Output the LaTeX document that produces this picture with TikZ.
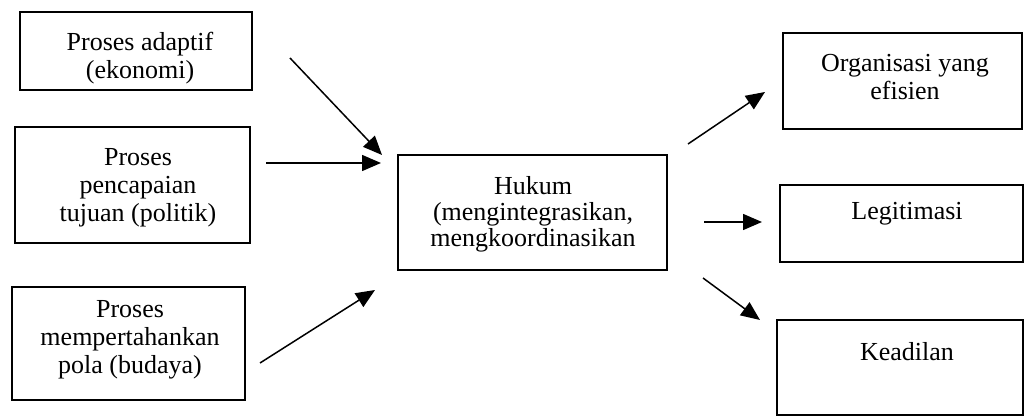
\documentclass[tikz,border=0pt]{standalone}
\usepackage{fontspec}
\setmainfont{Liberation Serif}
\usetikzlibrary{arrows.meta}
\begin{document}
\begin{tikzpicture}[x=1pt,y=-1pt,
  boxnode/.style={draw=black,line width=1.2pt,rectangle,inner sep=0pt},
  txt/.style={align=center,inner sep=0pt,font=\fontsize{26}{28}\selectfont},
  conn/.style={line width=1.5pt,-{Triangle[length=19pt,width=16pt]}}]
\useasboundingbox (0,0) rectangle (1026,419);
% left boxes
\node[boxnode,minimum width=232,minimum height=78] (b1) at (136,51) {};
\node[txt] (t1) at (140,58) {Proses adaptif\\(ekonomi)};
\node[boxnode,minimum width=235,minimum height=116] (b2) at (132.5,185) {};
\node[txt] (t2) at (138,188) {Proses\\pencapaian\\tujuan (politik)};
\node[boxnode,minimum width=233,minimum height=113] (b3) at (128.5,343.5) {};
\node[txt] (t3) at (130,340) {Proses\\mempertahankan\\pola (budaya)};
% centre box
\node[boxnode,minimum width=269,minimum height=115] (h) at (532.5,212.5) {};
\node[txt,font=\fontsize{26}{26}\selectfont] (th) at (533,214) {Hukum\\(mengintegrasikan,\\mengkoordinasikan};
% right boxes
\node[boxnode,minimum width=239,minimum height=96] (r1) at (902.5,81) {};
\node[txt] (tr1) at (905,77) {Organisasi yang\\efisien};
\node[boxnode,minimum width=243,minimum height=77] (r2) at (901.5,223.5) {};
\node[txt] (tr2) at (907,214) {Legitimasi};
\node[boxnode,minimum width=246,minimum height=95] (r3) at (900,367.5) {};
\node[txt] (tr3) at (907,352) {Keadilan};
% arrow end points
\coordinate (a1s) at (290,58);  \coordinate (a1e) at (382,155);
\coordinate (a2s) at (266,163); \coordinate (a2e) at (381,163);
\coordinate (a3s) at (260,363); \coordinate (a3e) at (375,290);
\coordinate (a4s) at (688,144); \coordinate (a4e) at (765,92);
\coordinate (a5s) at (704,222); \coordinate (a5e) at (762,222);
\coordinate (a6s) at (703,278); \coordinate (a6e) at (760,320);
\draw[conn] (a1s) -- (a1e);
\draw[conn] (a2s) -- (a2e);
\draw[conn] (a3s) -- (a3e);
\draw[conn] (a4s) -- (a4e);
\draw[conn] (a5s) -- (a5e);
\draw[conn] (a6s) -- (a6e);
\end{tikzpicture}
\end{document}
